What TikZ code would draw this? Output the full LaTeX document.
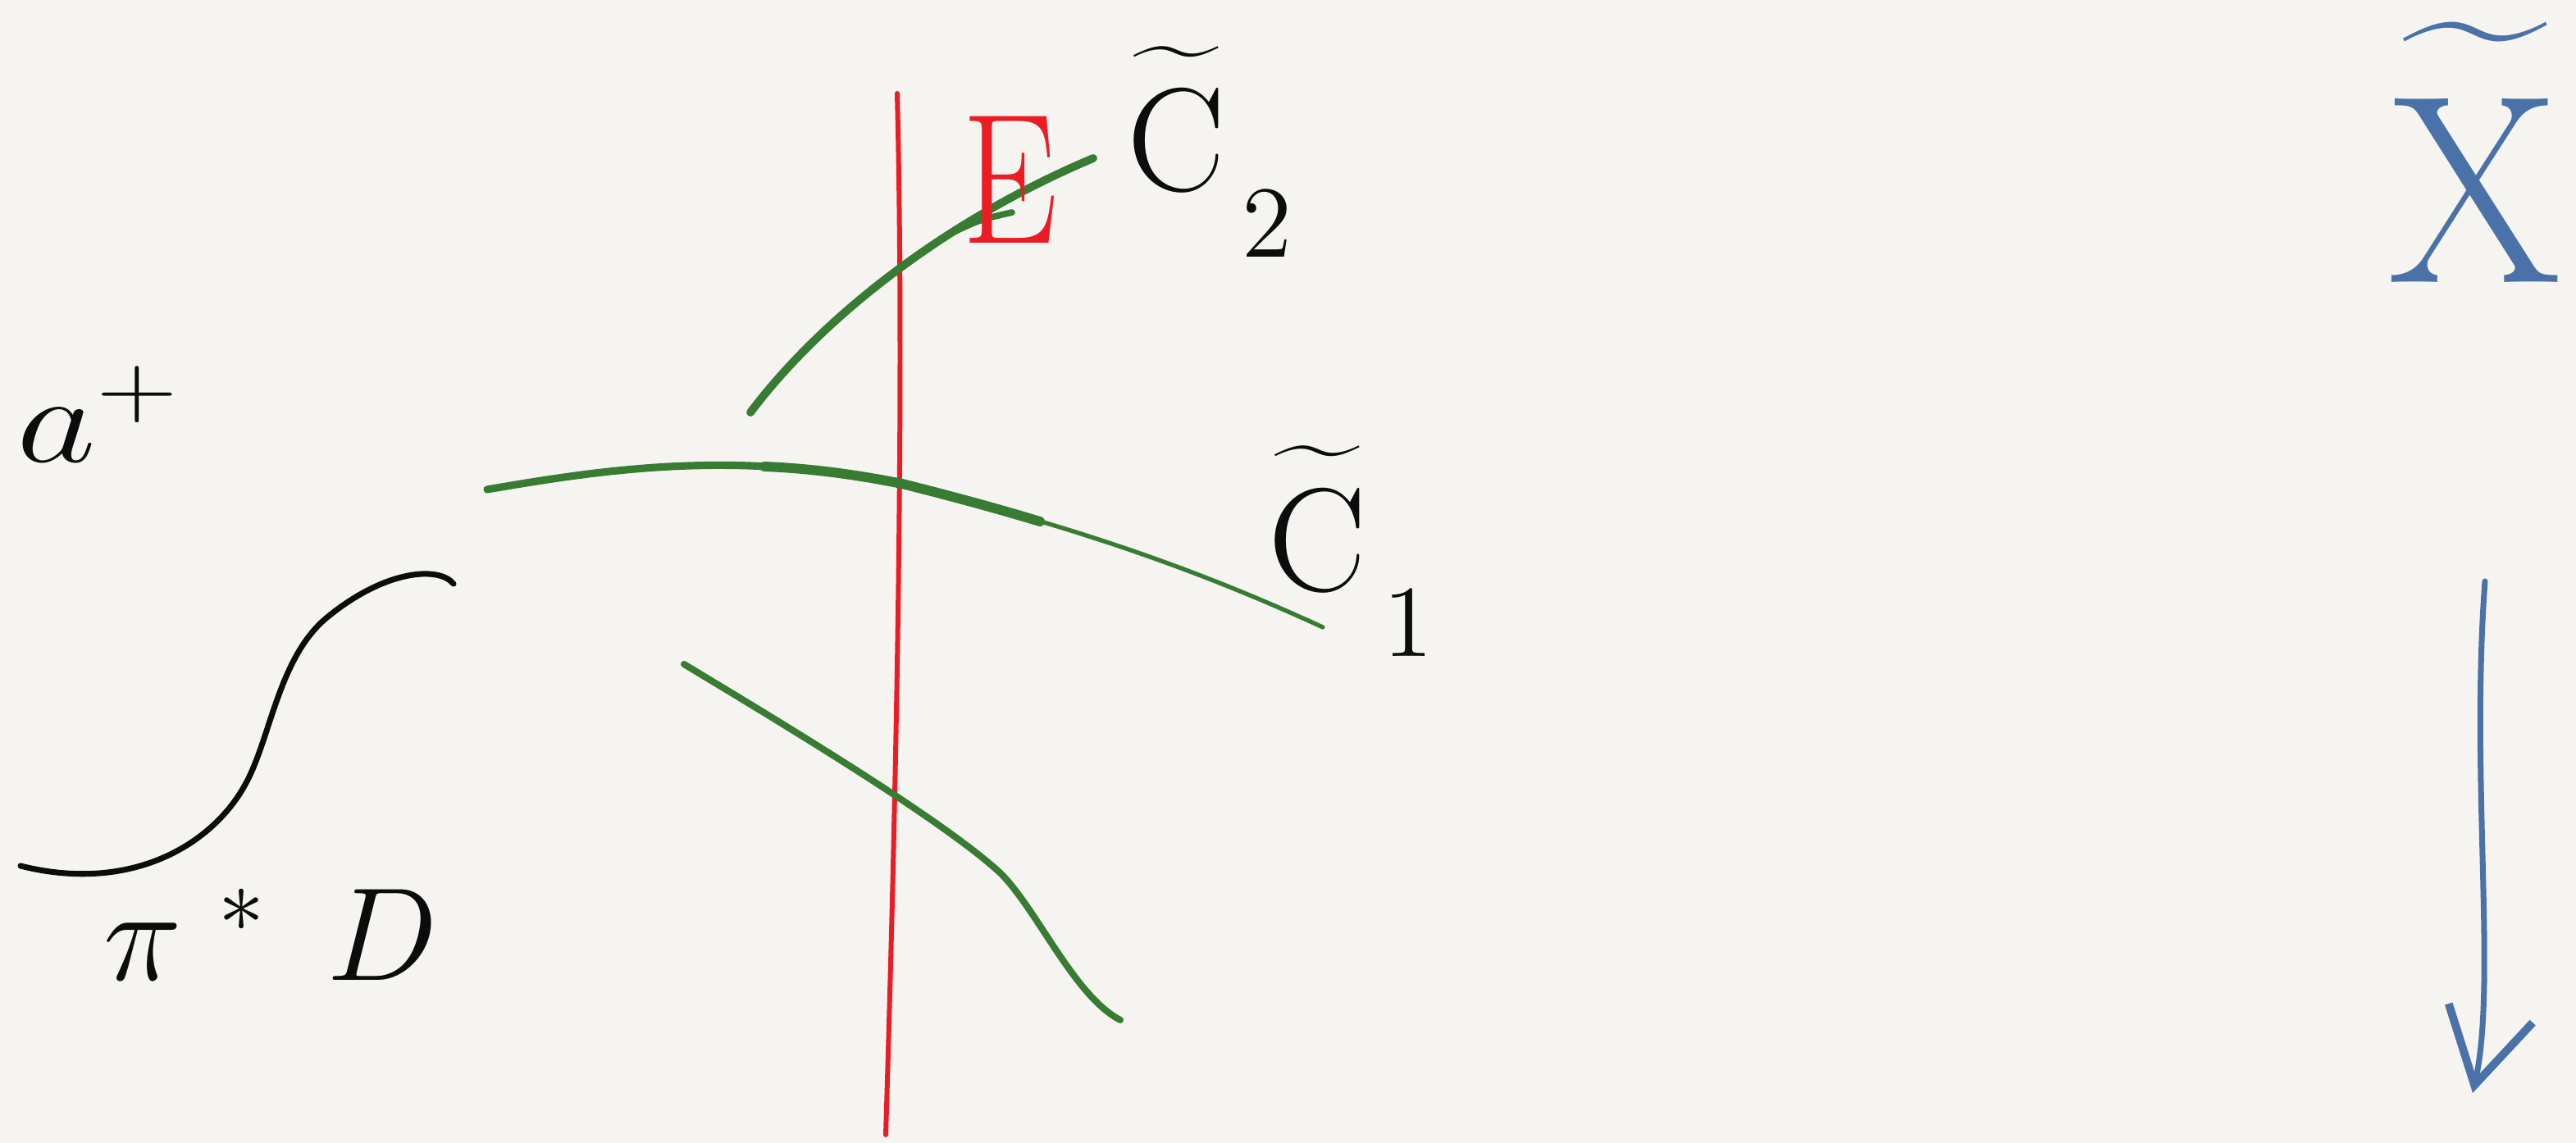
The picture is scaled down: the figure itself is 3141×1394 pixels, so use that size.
\documentclass[tikz,border=0pt]{standalone}
\usetikzlibrary{arrows.meta}
\definecolor{bg}{RGB}{245,244,240}
\definecolor{pred}{RGB}{236,28,36}
\definecolor{pgreen}{RGB}{56,124,52}
\definecolor{pblue}{RGB}{74,114,168}
\definecolor{pblack}{RGB}{12,12,12}
\begin{document}
\begin{tikzpicture}[x=0.01cm,y=-0.01cm, line cap=round, line join=round,
  redline/.style={draw=pred, line width=1.7pt},
  greencurve/.style={draw=pgreen, line width=2.6pt},
  blackcurve/.style={draw=pblack, line width=2pt},
  bluestroke/.style={draw=pblue, line width=2pt},
  lbl/.style={inner sep=0pt, text=pblack, font=\LARGE}]
\fill[bg] (0,0) rectangle (3141,1394);
\useasboundingbox (0,0) rectangle (3141,1394);

% exceptional divisor (red vertical line)
\draw[redline] (1094,114) .. controls (1101,400) and (1098,800) .. (1080,1384);

% C2 tilde (green)
\draw[greencurve, line width=2.8pt] (915,503) .. controls (1000,390) and (1150,270) .. (1333,193);
\draw[greencurve, line width=2.2pt] (1165,282) .. controls (1195,268) .. (1234,259);

% C1 tilde (green)
\draw[greencurve, line width=2.6pt] (594,597) .. controls (750,570) and (900,550) .. (1100,590);
\draw[greencurve, line width=1.5pt] (1100,590) .. controls (1300,640) and (1450,690) .. (1613,765);
\draw[greencurve, line width=3.4pt] (932,569) .. controls (984,571) and (1040,578) .. (1100,590);
\draw[greencurve, line width=3.4pt] (1100,590) .. controls (1160,605) and (1215,620) .. (1268,636);

% lower green curve
\draw[greencurve, line width=2.3pt] (834,810) .. controls (950,880) and (1150,1000) .. (1220,1065) .. controls (1265,1110) and (1310,1215) .. (1366,1244);

% black curve pi^* D
\draw[blackcurve] (553,712) .. controls (535,690) and (470,695) .. (400,752) .. controls (340,800) and (330,900) .. (300,955) .. controls (260,1030) and (160,1090) .. (25,1056);

% labels
\node[lbl, anchor=base west, xscale=3.1, yscale=2.5] (aplus) at (18,563) {$a^{+}$};
\node[lbl, anchor=base west, scale=2.66] (pid) at (125,1195) {$\pi^{\mkern7mu *}\mkern8mu D$};
\node[lbl, anchor=base west, scale=2.95] (c2) at (1372,233) {$\widetilde{\rule{0pt}{0.8em}\mathrm{C}}_{\raisebox{-0.3em}{$\scriptstyle\mkern3mu 2$}}$};
\node[lbl, anchor=base west, scale=2.95] (c1) at (1544,720) {$\widetilde{\rule{0pt}{0.8em}\mathrm{C}}_{\raisebox{-0.3em}{$\scriptstyle\mkern3mu 1$}}$};
\node[lbl, anchor=base, text=pred, xscale=3.04, yscale=3.73] (E) at (1232,297) {$\mathrm{E}$};
\node[lbl, anchor=base, text=pblue, xscale=5.0, yscale=5.4] (Xt) at (3018,344) {$\widetilde{\rule{0pt}{0.78em}\mathrm{X}}$};

% map arrow
\coordinate (arrtop) at (3030,709);
\coordinate (arrtip) at (3015,1333);
\draw[bluestroke, -{Straight Barb[length=0.9cm, width=1.05cm, line width=2.8pt]}] (arrtop) .. controls (3012,950) and (3045,1200) .. (arrtip);
\end{tikzpicture}
\end{document}
